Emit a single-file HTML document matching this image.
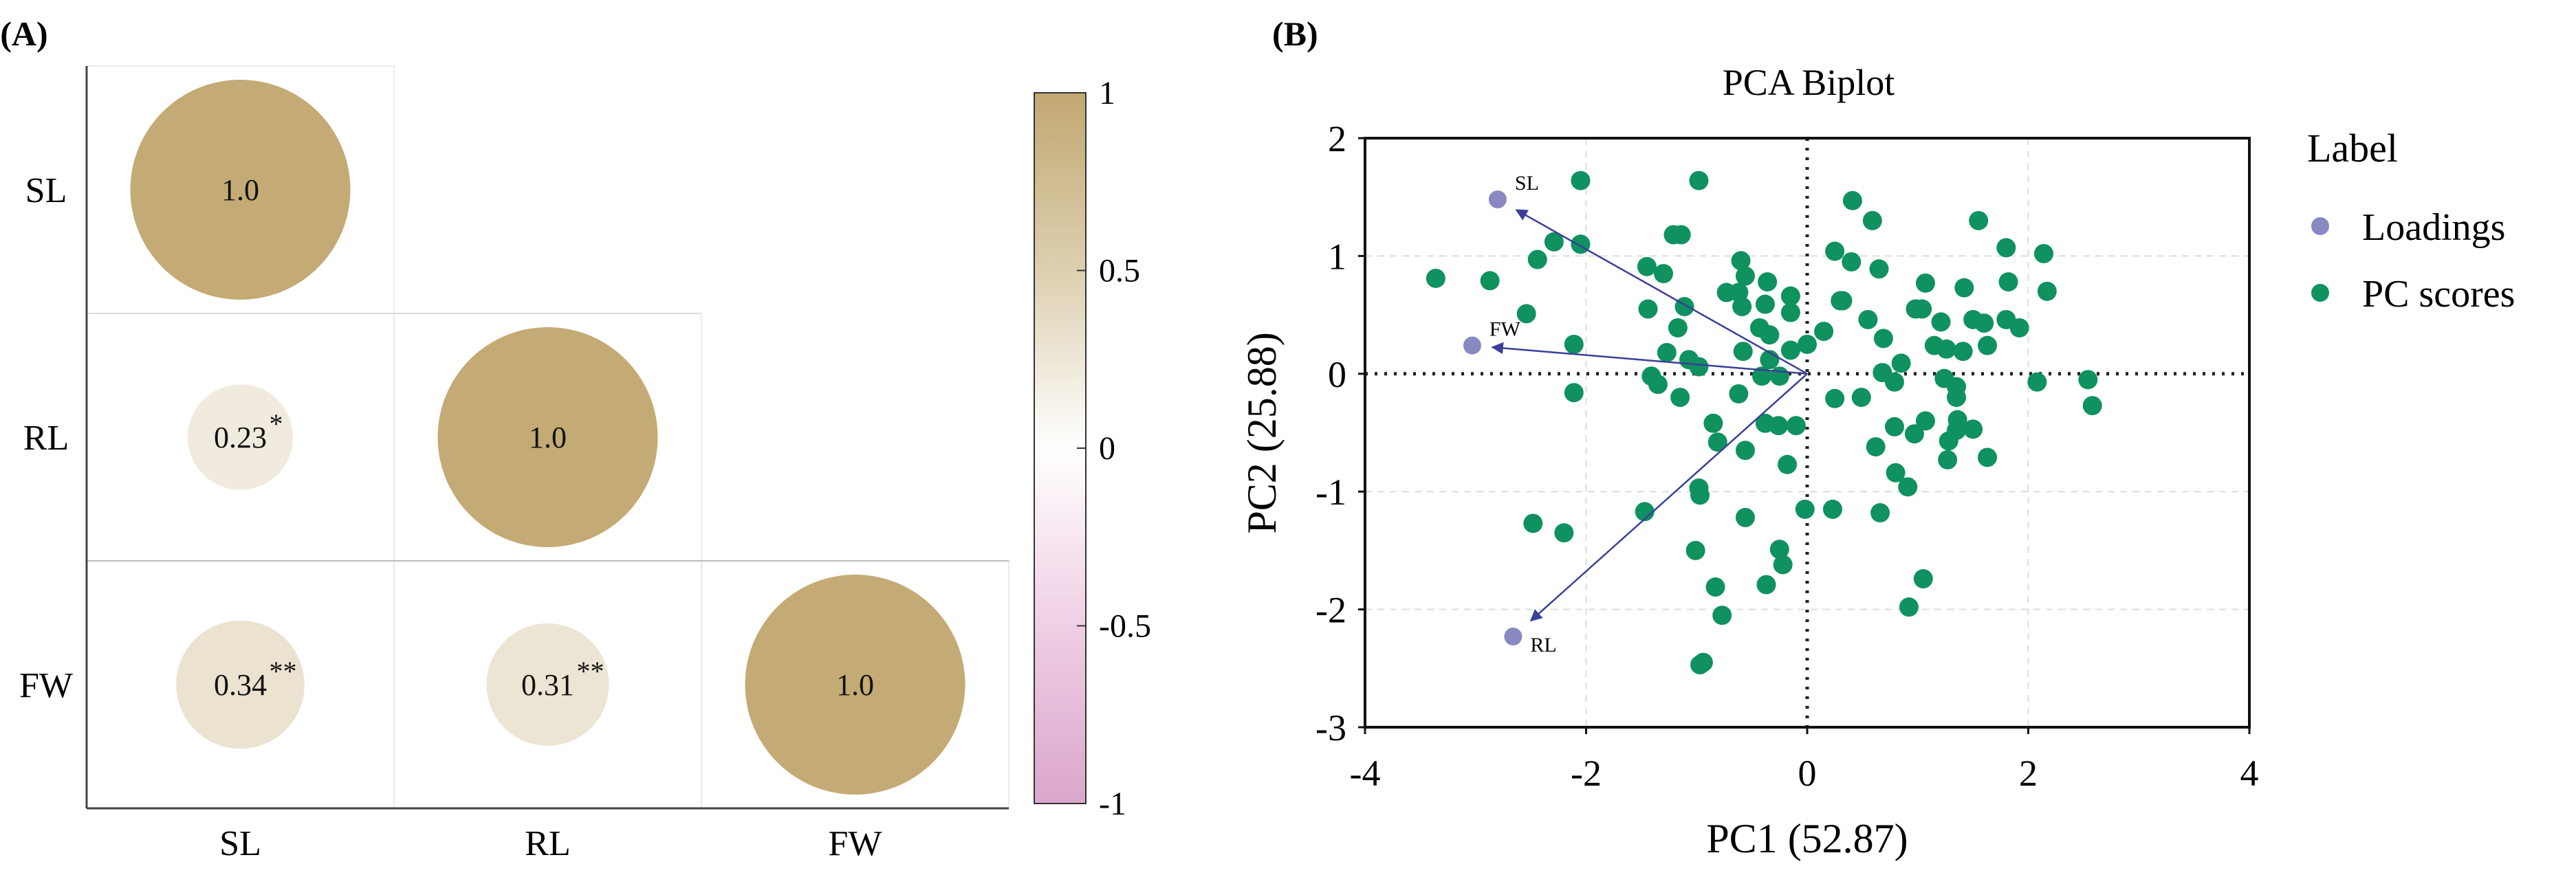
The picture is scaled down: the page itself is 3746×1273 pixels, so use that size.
<!DOCTYPE html>
<html><head><meta charset="utf-8"><style>
body{margin:0;background:#fff}
svg{display:block}
svg text{font-family:"Liberation Serif","Times New Roman",serif}
</style></head><body>
<svg id="fig" width="3746" height="1273" viewBox="0 0 3746 1273" font-family="Liberation Serif, serif">
<defs>
<linearGradient id="cb" x1="0" y1="0" x2="0" y2="1">
<stop offset="0" stop-color="#c2a872"/><stop offset="0.25" stop-color="#ddd0b0"/><stop offset="0.5" stop-color="#ffffff"/><stop offset="0.75" stop-color="#efcfe4"/><stop offset="1" stop-color="#dba6cc"/>
</linearGradient>
<marker id="ah" viewBox="0 0 10 10" refX="9" refY="5" markerWidth="7" markerHeight="7" orient="auto"><path d="M0,0 L10,5 L0,10 z" fill="#3a3f98"/></marker>
</defs>
<text x="35" y="66" font-size="50" font-weight="bold" text-anchor="middle">(A)</text>
<g id="corr"></g>
<g id="cbar"></g>
<text x="1850" y="66" font-size="50" font-weight="bold">(B)</text>
<g id="pca"></g>
</svg>
<script>
const NS="http://www.w3.org/2000/svg";
function mk(p,t,a){const e=document.createElementNS(NS,t);for(const k in a)e.setAttribute(k,a[k]);p.appendChild(e);return e;}
// ---- correlation data
const vars=["SL","RL","FW"];
const corrVals=[[1.0],[0.23,1.0],[0.34,0.31,1.0]];
const corrLabels=[["1.0"],["0.23","1.0"],["0.34","0.31","1.0"]];
const corrStars=[[""],["*",""],["**","**",""]];
const cbTicks=[1,0.5,0,-0.5,-1];
const cbTickLabels=["1","0.5","0","-0.5","-1"];
// ---- PCA data
const scoreX=[-2.05,-0.98,0.41,0.59,1.55,-1.21,-1.14,-2.29,-2.05,1.80,2.14,0.25,0.40,-2.44,-0.60,-1.45,-1.30,0.65,-0.56,-3.36,-2.87,-0.36,1.07,1.82,1.42,2.17,-0.73,-0.62,-0.15,0.30,0.32,-1.11,-0.38,-0.59,-1.44,-0.15,-2.54,0.98,1.04,0.55,1.21,1.50,1.60,1.80,1.92,-1.17,-0.43,-0.34,0.15,0.69,-2.11,0,1.15,1.26,1.41,1.63,-1.27,-0.58,-0.15,-0.34,-1.07,-0.98,0.85,0.68,1.24,-1.41,-1.35,-0.41,-0.25,0.79,2.08,2.54,1.35,1.35,-2.11,-1.15,-0.62,0.25,0.49,2.58,-0.85,-0.38,-0.26,-0.10,1.07,0.79,1.36,1.35,0.97,1.50,-0.81,1.28,0.62,-0.56,1.63,1.27,-0.18,0.80,0.91,-0.98,-0.97,-1.47,-0.02,0.23,0.66,-0.56,-2.48,-2.20,-0.25,-1.01,-0.22,1.05,-0.37,-0.83,0.92,-0.77,-0.94,-0.97];
const scoreY=[1.64,1.64,1.47,1.30,1.30,1.18,1.18,1.12,1.10,1.07,1.02,1.04,0.95,0.97,0.96,0.91,0.85,0.89,0.83,0.81,0.79,0.78,0.77,0.78,0.73,0.70,0.69,0.69,0.66,0.62,0.62,0.57,0.59,0.57,0.55,0.52,0.51,0.55,0.55,0.46,0.44,0.46,0.43,0.46,0.39,0.39,0.39,0.33,0.36,0.30,0.25,0.25,0.24,0.21,0.19,0.24,0.18,0.19,0.20,0.12,0.12,0.06,0.09,0.01,-0.04,-0.02,-0.09,-0.02,-0.02,-0.07,-0.07,-0.05,-0.11,-0.20,-0.16,-0.20,-0.17,-0.21,-0.20,-0.27,-0.42,-0.42,-0.44,-0.44,-0.40,-0.45,-0.39,-0.48,-0.51,-0.47,-0.58,-0.57,-0.62,-0.65,-0.71,-0.73,-0.77,-0.84,-0.96,-0.97,-1.03,-1.17,-1.15,-1.15,-1.18,-1.22,-1.27,-1.35,-1.49,-1.50,-1.62,-1.74,-1.79,-1.81,-1.98,-2.05,-2.45,-2.47];
const loadNames=["SL","FW","RL"];
const loadX=[-2.80,-3.03,-2.66];
const loadY=[1.48,0.24,-2.23];
const xTicks=[-4,-2,0,2,4];
const yTicks=[2,1,0,-1,-2,-3];

// ---- Panel A
const corr=document.getElementById('corr');
const gx0=126,gy0=96,cw=447,ch=360,rMax=160;
function colFor(v){const t=Math.max(0,Math.min(1,v));const a=[255,255,255],b=[196,170,116];return `rgb(${a.map((c,i)=>Math.round(c+(b[i]-c)*t)).join(',')})`;}
for(let i=0;i<3;i++){for(let j=0;j<=i;j++){
  const r=mk(corr,'rect',{x:gx0+j*cw,y:gy0+i*ch,width:cw,height:ch,fill:'none',stroke:'#e6e6e6','stroke-width':1.5});
  
  
}}
mk(corr,'line',{x1:gx0,y1:gy0+2*ch,x2:gx0+3*cw,y2:gy0+2*ch,stroke:'#bbb','stroke-width':2});
mk(corr,'line',{x1:gx0,y1:gy0+ch,x2:gx0+2*cw,y2:gy0+ch,stroke:'#ddd','stroke-width':2});
mk(corr,'line',{x1:gx0,y1:gy0,x2:gx0,y2:gy0+3*ch,stroke:'#444','stroke-width':3});
mk(corr,'line',{x1:gx0,y1:gy0+3*ch,x2:gx0+3*cw,y2:gy0+3*ch,stroke:'#444','stroke-width':3});
for(let i=0;i<3;i++){
  for(let j=0;j<=i;j++){
    const v=corrVals[i][j],cx=gx0+j*cw+cw/2,cy=gy0+i*ch+ch/2;
    const c=mk(corr,'circle',{cx:cx,cy:cy,r:rMax*Math.sqrt(Math.abs(v)),fill:colFor(v)});
    
    
    const t=mk(corr,'text',{x:cx,y:cy+15,'font-size':44,'text-anchor':'middle',fill:'#111'});
    t.textContent=corrLabels[i][j];
    
    
    if(corrStars[i][j]){const s=mk(corr,'text',{x:cx+corrLabels[i][j].length*11-2,y:cy-6,'font-size':40,fill:'#111'});s.textContent=corrStars[i][j];
      
      }
  }
  const rl=mk(corr,'text',{x:67,y:gy0+i*ch+ch/2+18,'font-size':52,'text-anchor':'middle'});
  rl.textContent=vars[i];
  
  
  const cl=mk(corr,'text',{x:gx0+i*cw+cw/2,y:1244,'font-size':52,'text-anchor':'middle'});
  cl.textContent=vars[i];
  
  
}
const cbar=document.getElementById('cbar');
const cbx=1504,cby0=135,cby1=1169;
mk(cbar,'rect',{x:cbx,y:cby0,width:75,height:cby1-cby0,fill:'url(#cb)',stroke:'#333','stroke-width':2});
cbTicks.forEach((v,i)=>{const y=cby0+(1-v)/2*(cby1-cby0);
  mk(cbar,'line',{x1:cbx+62,y1:y,x2:cbx+75,y2:y,stroke:'#333','stroke-width':2});
  const t=mk(cbar,'text',{x:1598,y:y+16,'font-size':48});t.textContent=cbTickLabels[i];
  
  });

// ---- Panel B
const pca=document.getElementById('pca');
const px0=1985,px1=3271,py0=201,py1=1058;
const sx=v=>px0+(v+4)/8*(px1-px0);
const sy=v=>py1-(v+3)/5*(py1-py0);
[-2,2].forEach(v=>mk(pca,'line',{x1:sx(v),y1:py0,x2:sx(v),y2:py1,stroke:'#ddd','stroke-width':2,'stroke-dasharray':'10,8'}));
[1,-1,-2].forEach(v=>mk(pca,'line',{x1:px0,y1:sy(v),x2:px1,y2:sy(v),stroke:'#ddd','stroke-width':2,'stroke-dasharray':'10,8'}));
mk(pca,'line',{x1:sx(0),y1:py0,x2:sx(0),y2:py1,stroke:'#222','stroke-width':5,'stroke-dasharray':'4,10'});
mk(pca,'line',{x1:px0,y1:sy(0),x2:px1,y2:sy(0),stroke:'#222','stroke-width':5,'stroke-dasharray':'4,10'});
scoreX.forEach((x,i)=>{const c=mk(pca,'circle',{cx:sx(x),cy:sy(scoreY[i]),r:14,fill:'#0f9160'});
  
  });
loadX.forEach((x,i)=>{
  const tx=x*0.94,ty=loadY[i]*0.94;
  const a=mk(pca,'line',{x1:sx(0),y1:sy(0),x2:sx(tx),y2:sy(ty),stroke:'#3a3f98','stroke-width':2.5,'marker-end':'url(#ah)'});
  
  
  const p=mk(pca,'circle',{cx:sx(x),cy:sy(loadY[i]),r:13,fill:'#8a88c2'});
  
  
  const t=mk(pca,'text',{x:sx(x)+25,y:sy(loadY[i])-(loadNames[i]==='RL'?-22:14),'font-size':30});
  t.textContent=loadNames[i];
  
  
});
mk(pca,'rect',{x:px0,y:py0,width:px1-px0,height:py1-py0,fill:'none',stroke:'#111','stroke-width':4});
xTicks.forEach(v=>{mk(pca,'line',{x1:sx(v),y1:py1,x2:sx(v),y2:py1+10,stroke:'#111','stroke-width':3});
  const t=mk(pca,'text',{x:sx(v),y:1143,'font-size':54,'text-anchor':'middle'});t.textContent=v;
  
  });
yTicks.forEach(v=>{mk(pca,'line',{x1:px0-10,y1:sy(v),x2:px0,y2:sy(v),stroke:'#111','stroke-width':3});
  const t=mk(pca,'text',{x:1958,y:sy(v)+19,'font-size':54,'text-anchor':'end'});t.textContent=v;
  
  });

const fig=document.getElementById('fig');
function T(x,y,s,txt,extra){const e=document.createElementNS(NS,'text');e.setAttribute('x',x);e.setAttribute('y',y);e.setAttribute('font-size',s);if(extra)for(const k in extra)e.setAttribute(k,extra[k]);e.textContent=txt;fig.appendChild(e);return e;}
let e;
e=T(2630,138,54,'PCA Biplot',{'text-anchor':'middle'});


e=T(2628,1240,60,'PC1 (52.87)',{'text-anchor':'middle'});


e=T(0,0,60,'PC2 (25.88)',{'text-anchor':'middle',transform:'translate(1855,630) rotate(-90)'});


e=T(3355,235,58,'Label');


const c1=mk(fig,'circle',{cx:3374,cy:329,r:13,fill:'#8a88c2'});


e=T(3435,349,56,'Loadings');


const c2=mk(fig,'circle',{cx:3374,cy:426,r:13,fill:'#0f9160'});


e=T(3435,446,56,'PC scores');


</script>
</body></html>
